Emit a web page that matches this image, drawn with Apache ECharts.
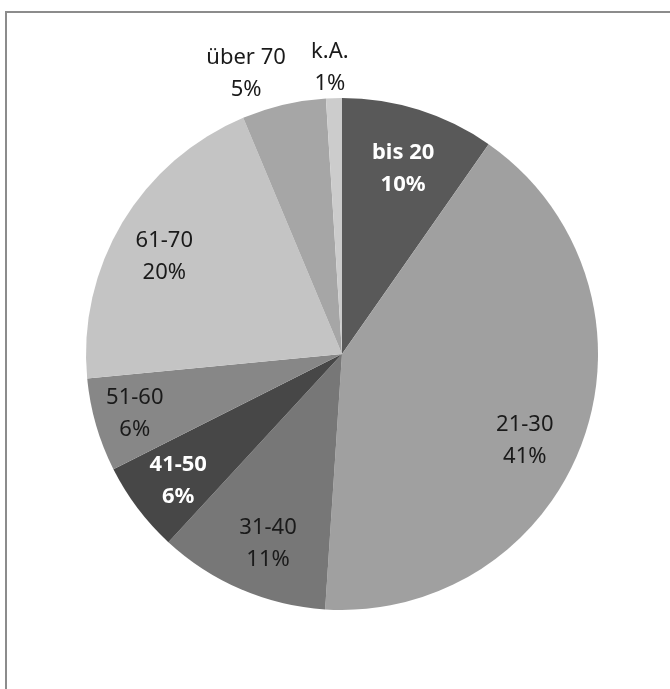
<!DOCTYPE html>
<html>
<head>
<meta charset="utf-8">
<script src="https://cdn.jsdelivr.net/npm/echarts@6/dist/echarts.min.js"></script>
<style>
  html, body { margin: 0; padding: 0; background: #fff; }
  #chart { width: 670px; height: 689px; }
</style>
</head>
<body>
<div id="chart"></div>
<script>
// Altersgruppen, Anteile (Winkel) und angezeigte Prozente
var groups = ['bis 20', '21-30', '31-40', '41-50', '51-60', '61-70', 'über 70', 'k.A.'];
var shares = [9.7, 41.3, 10.8, 5.7, 5.9, 20.2, 5.3, 1.0];
var shownPct = ['10%', '41%', '11%', '6%', '6%', '20%', '5%', '1%'];
var colors = ['#595959', '#a0a0a0', '#777777', '#474747', '#878787', '#c4c4c4', '#a6a6a6', '#cccccc'];

var outsideIdx = [6, 7];   // kleine Segmente: Beschriftung außerhalb
var whiteIdx = [0, 3];     // weiße fette Beschriftung
// kleine Verschiebungen der Beschriftung wie im Original
var nudge = { 0: [1, 6], 1: [-6, 20], 2: [5, 6], 3: [-4, 6], 4: [-15, 4], 5: [-6, 6], 6: [-30, 2], 7: [-3, 3] };

var chart = echarts.init(document.getElementById('chart'));

var R = 256;
var center = [342, 354];
var font = '"Noto Sans", "Open Sans", sans-serif';

function labelFor(i, inside) {
  var show = inside ? outsideIdx.indexOf(i) < 0 : outsideIdx.indexOf(i) >= 0;
  var white = whiteIdx.indexOf(i) >= 0;
  return {
    show: show,
    position: 'inside',
    formatter: groups[i] + '\n' + shownPct[i],
    color: white ? '#ffffff' : '#1a1a1a',
    fontWeight: white ? 'bold' : 'normal',
    fontFamily: font,
    fontSize: 22,
    lineHeight: 32,
    offset: nudge[i] || [0, 0]
  };
}

var pieData = groups.map(function (g, i) {
  return { name: g, value: shares[i], itemStyle: { color: colors[i] } };
});
var innerLabels = groups.map(function (g, i) {
  return { name: g, value: shares[i], label: labelFor(i, true) };
});
var outerLabels = groups.map(function (g, i) {
  return { name: g, value: shares[i], label: labelFor(i, false) };
});

var labelSeriesBase = {
  type: 'pie',
  center: center,
  startAngle: 90,
  clockwise: true,
  silent: true,
  itemStyle: { color: 'transparent', borderWidth: 0 },
  labelLine: { show: false },
  emphasis: { disabled: true },
  animation: false
};

chart.setOption({
  backgroundColor: '#ffffff',
  animation: false,
  graphic: [{
    type: 'rect',
    shape: { x: 6, y: 12, width: 720, height: 720 },
    style: { fill: 'none', stroke: '#8c8c8c', lineWidth: 2 },
    silent: true
  }],
  series: [
    {
      type: 'pie',
      center: center,
      radius: [0, R],
      startAngle: 90,
      clockwise: true,
      label: { show: false },
      labelLine: { show: false },
      itemStyle: { borderWidth: 0 },
      emphasis: { disabled: true },
      data: pieData
    },
    Object.assign({}, labelSeriesBase, {
      radius: [R * 0.54, R],
      data: innerLabels
    }),
    Object.assign({}, labelSeriesBase, {
      radius: [R, R * 1.24],
      data: outerLabels
    })
  ]
});
</script>
</body>
</html>
